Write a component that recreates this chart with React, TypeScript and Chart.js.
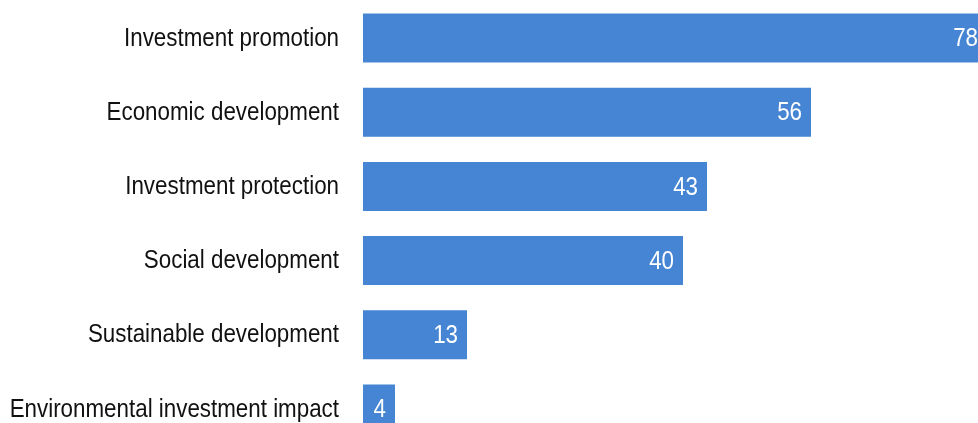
import React, { useEffect, useRef } from "react";
import { Chart, registerables } from "chart.js";

Chart.register(...registerables);

const categories = [
  "Investment promotion",
  "Economic development",
  "Investment protection",
  "Social development",
  "Sustainable development",
  "Environmental investment impact",
];
const values = [78, 56, 43, 40, 13, 4];

const FONT = "'Liberation Sans', Arial, sans-serif";
const FONT_SIZE = 26;
const CONDENSE = 0.86;

function drawCondensed(ctx: CanvasRenderingContext2D, text: string, x: number, y: number) {
  ctx.save();
  ctx.translate(x, y);
  ctx.scale(CONDENSE, 1);
  ctx.fillText(text, 0, 0);
  ctx.restore();
}

const condensedLabels = {
  id: "condensedLabels",
  afterDatasetsDraw(chart: any) {
    const ctx = chart.ctx as CanvasRenderingContext2D;
    const yScale = chart.scales.y;
    const meta = chart.getDatasetMeta(0);
    ctx.save();
    ctx.font = `${FONT_SIZE}px ${FONT}`;
    ctx.textAlign = "right";
    ctx.textBaseline = "middle";
    // category labels
    ctx.fillStyle = "#111111";
    (chart.data.labels as string[]).forEach((label, i) => {
      drawCondensed(ctx, label, yScale.right - 24, yScale.getPixelForTick(i) + 0.5);
    });
    // value labels
    ctx.fillStyle = "#ffffff";
    meta.data.forEach((bar: any, i: number) => {
      drawCondensed(ctx, String(values[i]), bar.x - 9, bar.y + 1);
    });
    ctx.restore();
  },
};

export default function App() {
  const ref = useRef<HTMLCanvasElement>(null);
  useEffect(() => {
    if (!ref.current) return;
    const chart = new Chart(ref.current, {
      type: "bar",
      data: {
        labels: categories,
        datasets: [
          {
            data: values,
            backgroundColor: "#4585D4",
            barPercentage: 0.66,
            categoryPercentage: 1,
          },
        ],
      },
      options: {
        indexAxis: "y",
        responsive: false,
        animation: false,
        devicePixelRatio: 1,
        layout: { autoPadding: false, padding: { top: 1, left: 0, right: 0, bottom: 0 } },
        plugins: { legend: { display: false }, tooltip: { enabled: false } },
        scales: {
          x: { display: false, min: 0, max: 80 },
          y: {
            grid: { display: false, drawTicks: false },
            border: { display: false },
            ticks: { display: false },
            afterFit(scale: any) {
              scale.width = 363;
            },
          },
        },
      },
      plugins: [condensedLabels],
    });
    return () => chart.destroy();
  }, []);
  return (
    <div style={{ position: "fixed", left: 0, top: 0, width: 978, height: 423, overflow: "hidden", background: "#fff" }}>
      <canvas ref={ref} width={1003} height={446} style={{ display: "block" }} />
    </div>
  );
}
